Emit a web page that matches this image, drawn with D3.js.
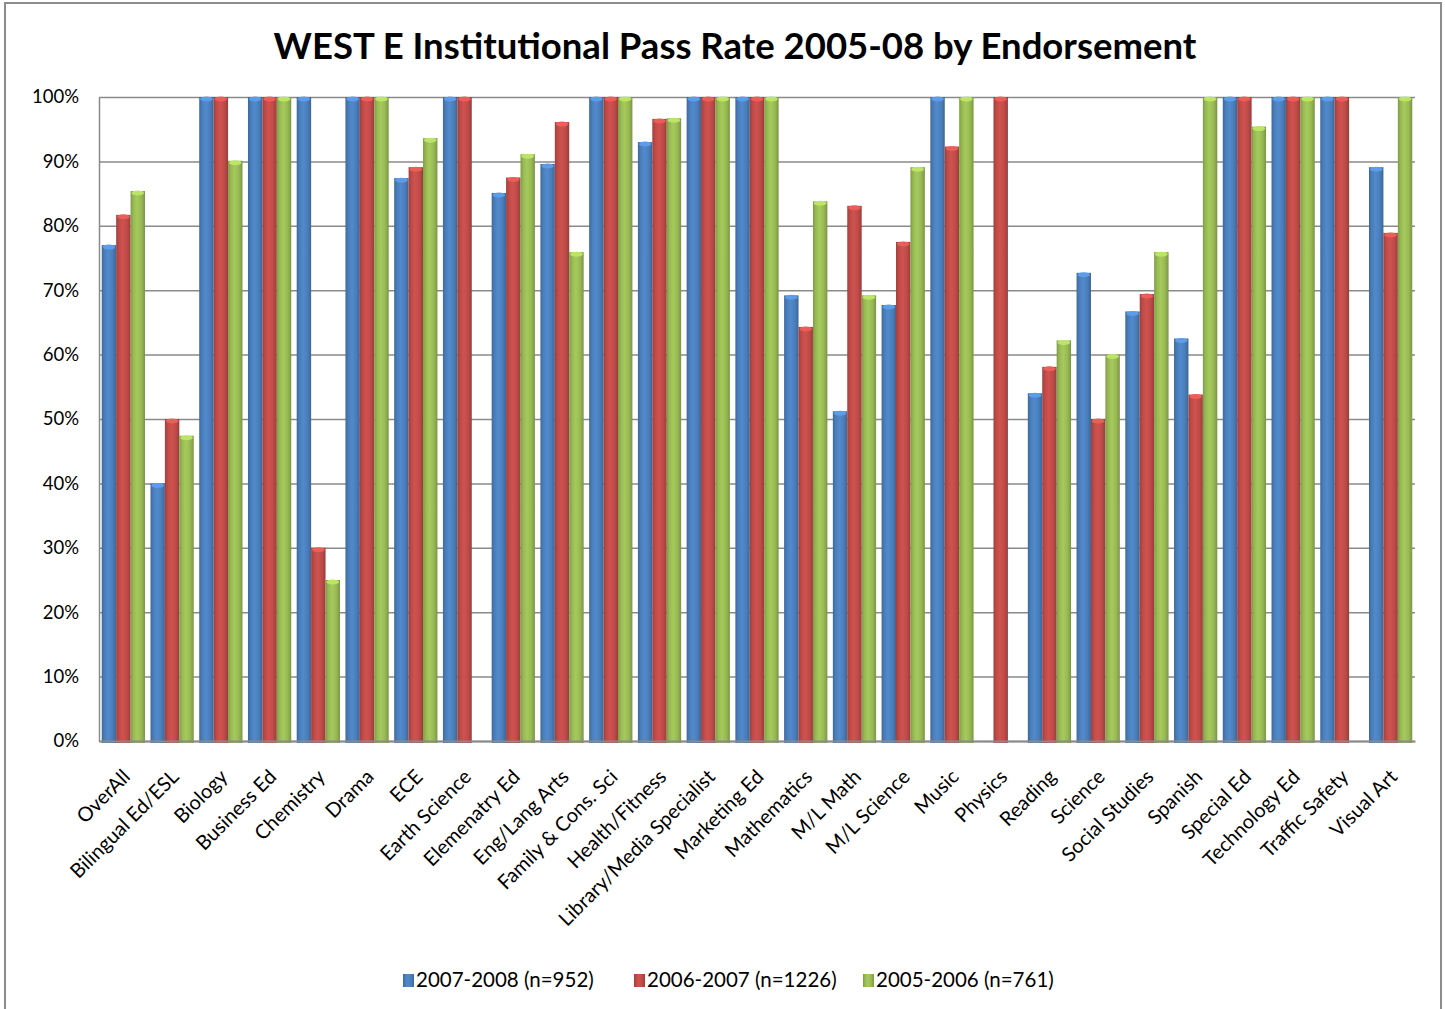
<!DOCTYPE html>
<html>
<head>
<meta charset="utf-8">
<script src="https://cdn.jsdelivr.net/npm/d3@7"></script>
<style>
  body { margin: 0; background: #fff; }
  text { font-family: Lato, "Open Sans", sans-serif; fill: #000; }
</style>
</head>
<body>
<svg id="chart"></svg>
<script>
// categories and pass rates (%); null = no bar
const categories = ["OverAll", "Bilingual Ed/ESL", "Biology", "Business Ed", "Chemistry", "Drama", "ECE",
  "Earth Science", "Elemenatry Ed", "Eng/Lang Arts", "Family & Cons. Sci", "Health/Fitness",
  "Library/Media Specialist", "Marketing Ed", "Mathematics", "M/L Math", "M/L Science", "Music",
  "Physics", "Reading", "Science", "Social Studies", "Spanish", "Special Ed", "Technology Ed",
  "Traffic Safety", "Visual Art"];
const seriesNames = ["2007-2008 (n=952)", "2006-2007 (n=1226)", "2005-2006 (n=761)"];
const rate0708 = [77, 40, 100, 100, 100, 100, 87.4, 100, 85.1, 89.6, 100, 93, 100, 100, 69.2, 51.2, 67.7, 100,
  null, 54, 72.7, 66.7, 62.5, 100, 100, 100, 89.1];
const rate0607 = [81.7, 50, 100, 100, 30, 100, 89.1, 100, 87.5, 96.1, 100, 96.6, 100, 100, 64.3, 83.1, 77.5, 92.3,
  100, 58.1, 50, 69.4, 53.8, 100, 100, 100, 78.9];
const rate0506 = [85.4, 47.4, 90.1, 100, 25, 100, 93.6, null, 91.1, 75.9, 100, 96.7, 100, 100, 83.8, 69.2, 89.1, 100,
  null, 62.2, 60, 75.9, 100, 95.4, 100, null, 100];
const yTicks = [0, 10, 20, 30, 40, 50, 60, 70, 80, 90, 100];
const colors = ["#4a7ebb", "#be4b48", "#98b954"];

const W = 1445, H = 1009;
const svg = d3.select("#chart").attr("width", W).attr("height", H);

const series = [rate0708, rate0607, rate0506];

// gradients to give the bars their rounded look
const defs = svg.append("defs");
colors.forEach((c, i) => {
  const g = defs.append("linearGradient").attr("id", "grad" + i)
    .attr("x1", 0).attr("x2", 1).attr("y1", 0).attr("y2", 0);
  const base = d3.color(c);
  g.append("stop").attr("offset", "0%").attr("stop-color", base.darker(0.5));
  g.append("stop").attr("offset", "20%").attr("stop-color", base);
  g.append("stop").attr("offset", "45%").attr("stop-color", base.brighter(0.25));
  g.append("stop").attr("offset", "75%").attr("stop-color", base);
  g.append("stop").attr("offset", "100%").attr("stop-color", base.darker(0.6));
});

// outer frame (bottom edge runs off the picture)
svg.append("rect")
  .attr("x", 5).attr("y", 3).attr("width", 1436).attr("height", 1012)
  .attr("fill", "none").attr("stroke", "#8c8c8c").attr("stroke-width", 2);

const plotLeft = 99, plotRight = 1415, plotTop = 97, plotBottom = 741;

const x = d3.scaleBand().domain(categories).range([plotLeft, plotRight]);
const xs = d3.scaleBand().domain([0, 1, 2]).range([0, x.bandwidth()]).paddingOuter(0.19);
const y = d3.scaleLinear().domain([0, 100]).range([plotBottom, plotTop]);

svg.append("text")
  .attr("x", 735).attr("y", 59)
  .attr("text-anchor", "middle")
  .attr("font-size", 36.5).attr("font-weight", "bold")
  .text("WEST E Institutional Pass Rate 2005-08 by Endorsement");

// y axis with gridlines
const yAxis = svg.append("g")
  .attr("transform", `translate(${plotLeft},0)`)
  .call(d3.axisLeft(y).tickValues(yTicks).tickFormat(d => d + "%")
    .tickSizeInner(-(plotRight - plotLeft)).tickSizeOuter(0).tickPadding(20));
yAxis.select(".domain").attr("stroke", "#8a8a8a").attr("stroke-width", 1.5);
yAxis.selectAll(".tick line").attr("stroke", "#8a8a8a").attr("stroke-width", 1.5);
yAxis.selectAll(".tick text").attr("font-size", 18.5).attr("font-family", "Lato, sans-serif");

// bars
const groups = svg.append("g").selectAll("g")
  .data(series)
  .join("g")
  .attr("fill", (d, i) => `url(#grad${i})`);

groups.each(function(vals, si) {
  const pts = vals.map((v, ci) => ({ v, cat: categories[ci] })).filter(p => p.v !== null);
  const g = d3.select(this);
  g.selectAll("rect").data(pts).join("rect")
    .attr("x", p => x(p.cat) + xs(si))
    .attr("y", p => y(p.v))
    .attr("width", xs.bandwidth())
    .attr("height", p => y(0) - y(p.v) + 2);
  g.selectAll("ellipse").data(pts).join("ellipse")
    .attr("cx", p => x(p.cat) + xs(si) + xs.bandwidth() / 2)
    .attr("cy", p => y(p.v) + 2)
    .attr("rx", xs.bandwidth() / 2 - 1)
    .attr("ry", 2.5)
    .attr("fill", d3.color(colors[si]).brighter(0.6));
});

// x axis
const xAxis = svg.append("g")
  .attr("transform", `translate(0,${plotBottom})`)
  .call(d3.axisBottom(x).tickSize(0).tickPadding(0));
xAxis.select(".domain").attr("stroke", "#8a8a8a").attr("stroke-width", 2);
xAxis.selectAll(".tick text")
  .attr("font-size", 20).attr("font-family", "Lato, sans-serif")
  .attr("text-anchor", "end")
  .attr("dy", 0)
  .attr("transform", "translate(8,37) rotate(-45)");

// legend
const legendX = [403, 634, 863];
const legend = svg.append("g").selectAll("g")
  .data(seriesNames)
  .join("g")
  .attr("transform", (d, i) => `translate(${legendX[i]},974)`);
legend.append("rect")
  .attr("width", 11).attr("height", 13)
  .attr("fill", (d, i) => `url(#grad${i})`);
legend.append("text")
  .attr("x", 13).attr("y", 13)
  .attr("font-size", 20.5)
  .text(d => d);
</script>
</body>
</html>
